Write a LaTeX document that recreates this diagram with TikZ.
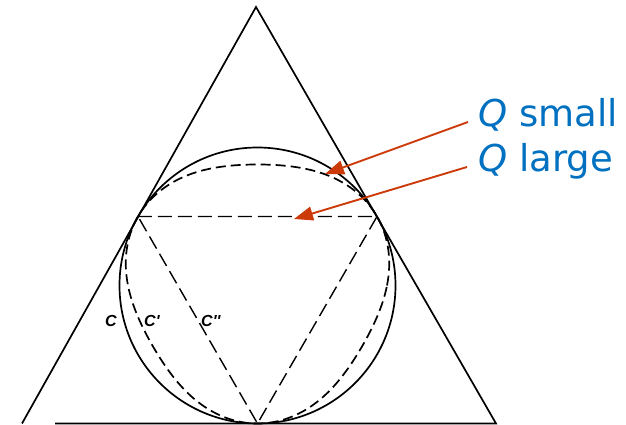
\documentclass[tikz,border=0pt]{standalone}
\usepackage{fontspec}
\setmainfont{DejaVu Sans}
\newfontfamily\labfont{Liberation Sans}
\usetikzlibrary{arrows.meta,calc}
\definecolor{qblue}{RGB}{0,112,192}
\definecolor{arrred}{RGB}{204,58,10}
\tikzset{
  solidline/.style={line width=1.7pt, black},
  dashC/.style={line width=1.7pt, black, dash pattern=on 10pt off 5pt},
  dashT/.style={line width=1.4pt, black, dash pattern=on 14pt off 6pt},
  qlabel/.style={text=qblue, font=\fontsize{37}{37}\selectfont, inner sep=0pt, anchor=base west},
  clabel/.style={font=\labfont\bfseries\itshape\fontsize{16}{16}\selectfont, inner sep=0pt, anchor=base west},
  redarrow/.style={draw=arrred, line width=1.9pt, -{Triangle[length=19pt,width=14pt]}, fill=arrred}
}
\begin{document}
\begin{tikzpicture}[x=1pt,y=1pt]
\useasboundingbox (0,0) rectangle (626,425);
% outer triangle
\coordinate (A) at (256,418);
\coordinate (B) at (22,1.5);
\coordinate (Cc) at (496,1.5);
\coordinate (Bb) at (55,1.5);
\draw[solidline, line join=miter] (B) -- (A) -- (Cc) -- (Bb);
% incircle C
\coordinate (I) at (257.5,139.5);
\draw[solidline] (I) circle (138);
% tangent points
\coordinate (TL) at ($(I)+(150:138)$);
\coordinate (TR) at ($(I)+(30:138)$);
\coordinate (TB) at ($(I)+(270:138)$);
% C' curve
\draw[dashC, shift={(257.5,139.5)}] plot[domain=0:360, samples=241, smooth]
  (\x:{138-8.5*(1+cos(3*(\x-90)))}) -- cycle;
% C'' inscribed triangle
\draw[dashT] (TL) -- (TR) -- (TB) -- cycle;
% labels
\node[clabel] (c1) at (105,98) {C};
\node[clabel] (c2) at (144,98) {C'};
\node[clabel] (c3) at (201,98) {C''};
% blue texts
\node[qlabel] (qs) at (478,298) {{\itshape Q} small};
\node[qlabel] (ql) at (478,253) {{\itshape Q} large};
% arrow targets
\coordinate (ps) at (325,251);
\coordinate (pl) at (294,206);
\draw[redarrow] ([xshift=-10pt,yshift=5pt]qs.base west) -- (ps);
\draw[redarrow] ([xshift=-11pt,yshift=5pt]ql.base west) -- (pl);
\end{tikzpicture}
\end{document}
